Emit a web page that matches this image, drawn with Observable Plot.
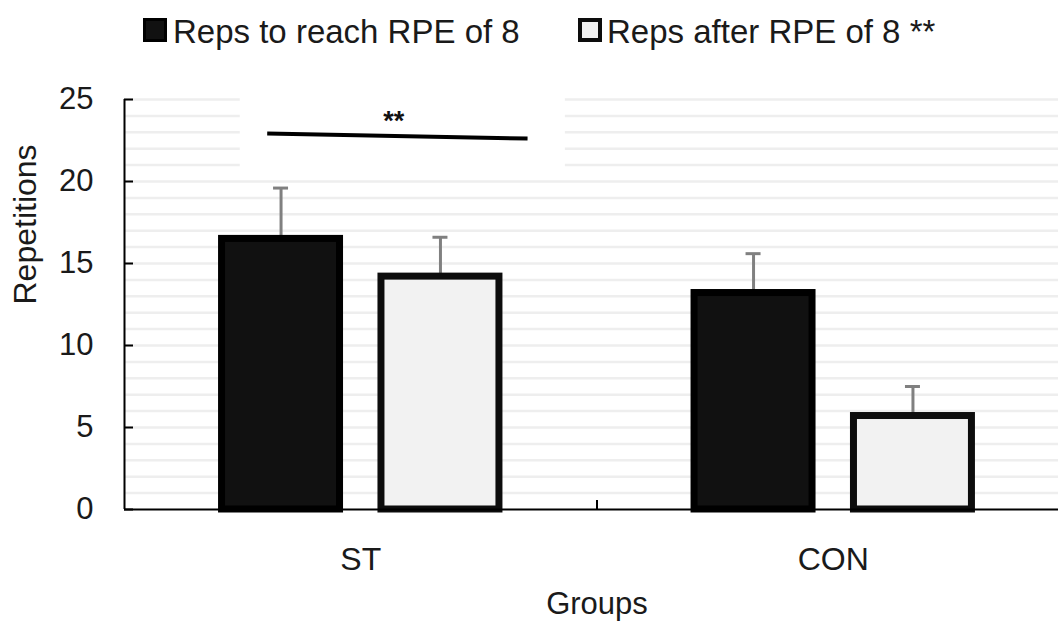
<!DOCTYPE html>
<html>
<head>
<meta charset="utf-8">
<script src="https://cdn.jsdelivr.net/npm/d3@7"></script>
<script src="https://cdn.jsdelivr.net/npm/@observablehq/plot@0.6"></script>
<style>
  html, body { margin: 0; padding: 0; background: #fff; overflow: hidden; width: 1058px; height: 623px; }
  body { font-family: "Liberation Sans", Arial, sans-serif; color: #1a1a1a; }
  #legend { position: relative; height: 70px; width: 1058px; }
  .sw { position: absolute; top: 18px; width: 24px; height: 24px; box-sizing: border-box; }
  .lt { position: absolute; top: 15px; font-size: 33px; line-height: 33px; white-space: nowrap; }
  #chart { width: 1058px; height: 553px; overflow: hidden; }
  #chart svg { display: block; }
</style>
</head>
<body>
<div id="legend"></div>
<div id="chart"></div>
<script>
// ---- data ----
const groups = ["ST", "CON"];
const series = ["Reps to reach RPE of 8", "Reps after RPE of 8 **"];
const repsToReach = [16.5, 13.2];
const repsToReachSD = [3.1, 2.4];
const repsAfter = [14.2, 5.7];
const repsAfterSD = [2.4, 1.8];
const yTicks = [0, 5, 10, 15, 20, 25];
const gridValues = d3.range(1, 26);
// significance annotation (ST group), in data units
const sigLine = [{x1: 0.302, y1: 22.93, x2: 0.853, y2: 22.62}];
const sigLabel = [{x: 0.57, y: 23.65, text: "**"}];
const sigBox = [{x1: 0.245, x2: 0.933, y1: 20.7, y2: 25.3}];

// ---- styles ----
const fills = ["#111111", "#f2f2f2"];
const strokes = ["#000000", "#0d0d0d"];

// ---- legend ----
const legend = document.getElementById("legend");
const legendPos = [{sw: 143, tx: 173, bw: 3}, {sw: 578, tx: 607, bw: 4}];
series.forEach((s, i) => {
  const sw = document.createElement("div");
  sw.className = "sw";
  sw.style.left = legendPos[i].sw + "px";
  sw.style.background = fills[i];
  sw.style.border = `${legendPos[i].bw}px solid ${strokes[i]}`;
  legend.appendChild(sw);
  const t = document.createElement("div");
  t.className = "lt";
  t.style.left = legendPos[i].tx + "px";
  t.textContent = s;
  legend.appendChild(t);
});

// ---- table ----
const inner = d3.scaleBand().domain(series).range([0, 1]).paddingInner(0.216).paddingOuter(0.59);
const values = [repsToReach, repsAfter];
const sds = [repsToReachSD, repsAfterSD];
const rows = [];
groups.forEach((g, gi) => {
  series.forEach((s, si) => {
    const x1 = gi + inner(s);
    const x2 = x1 + inner.bandwidth();
    rows.push({group: g, series: s, si, x1, x2, xc: (x1 + x2) / 2,
      value: values[si][gi], sd: sds[si][gi], capHalf: inner.bandwidth() * 0.06});
  });
});
const groupCenters = groups.map((g, i) => i + 0.5);
const boundaries = d3.range(1, groups.length);

const chart = Plot.plot({
  width: 1058,
  height: 553,
  marginLeft: 124,
  marginRight: 0,
  marginTop: 29,
  marginBottom: 114,
  style: {fontFamily: '"Liberation Sans", Arial, sans-serif', color: "#1a1a1a", background: "transparent"},
  x: {domain: [0, groups.length], range: [124, 1069]},
  y: {domain: [0, 25]},
  marks: [
    Plot.ruleY(gridValues, {stroke: "#eeeeee", strokeWidth: 2.5}),
    Plot.rect(sigBox, {x1: "x1", x2: "x2", y1: "y1", y2: "y2", fill: "white"}),
    Plot.link(sigLine, {x1: "x1", y1: "y1", x2: "x2", y2: "y2", stroke: "#000", strokeWidth: 4}),
    Plot.text(sigLabel, {x: "x", y: "y", text: "text", fontSize: 27, fontWeight: "bold", fill: "#111"}),
    Plot.ruleX(rows, {x: "xc", y1: "value", y2: d => d.value + d.sd, stroke: "#808080", strokeWidth: 3}),
    Plot.ruleY(rows, {y: d => d.value + d.sd, x1: d => d.xc - d.capHalf, x2: d => d.xc + d.capHalf, stroke: "#808080", strokeWidth: 3}),
    Plot.rect(rows, {x1: "x1", x2: "x2", y1: 0, y2: "value",
      fill: d => fills[d.si], stroke: d => strokes[d.si], strokeWidth: 7,
      insetLeft: 3.5, insetRight: 3.5}),
    Plot.ruleY([0], {stroke: "#000", strokeWidth: 2}),
    Plot.ruleX([0], {stroke: "#000", strokeWidth: 2}),
    Plot.axisY({ticks: yTicks, tickSize: -9, tickPadding: 40, fontSize: 31, label: null, strokeWidth: 2, stroke: "#000"}),
    Plot.axisX({ticks: groupCenters, tickSize: 0, tickPadding: 38, fontSize: 32, label: null,
      tickFormat: v => groups[Math.floor(v)]}),
    Plot.axisX({ticks: boundaries, tickSize: -9, tickFormat: () => "", label: null, strokeWidth: 2, stroke: "#000"}),
    Plot.text(["Groups"], {x: groups.length / 2, frameAnchor: "bottom", dy: 95, fontSize: 31, lineAnchor: "middle", text: d => d}),
    Plot.text(["Repetitions"], {frameAnchor: "left", dx: -99, rotate: -90, fontSize: 32, text: d => d})
  ]
});
document.getElementById("chart").appendChild(chart);
</script>
</body>
</html>
